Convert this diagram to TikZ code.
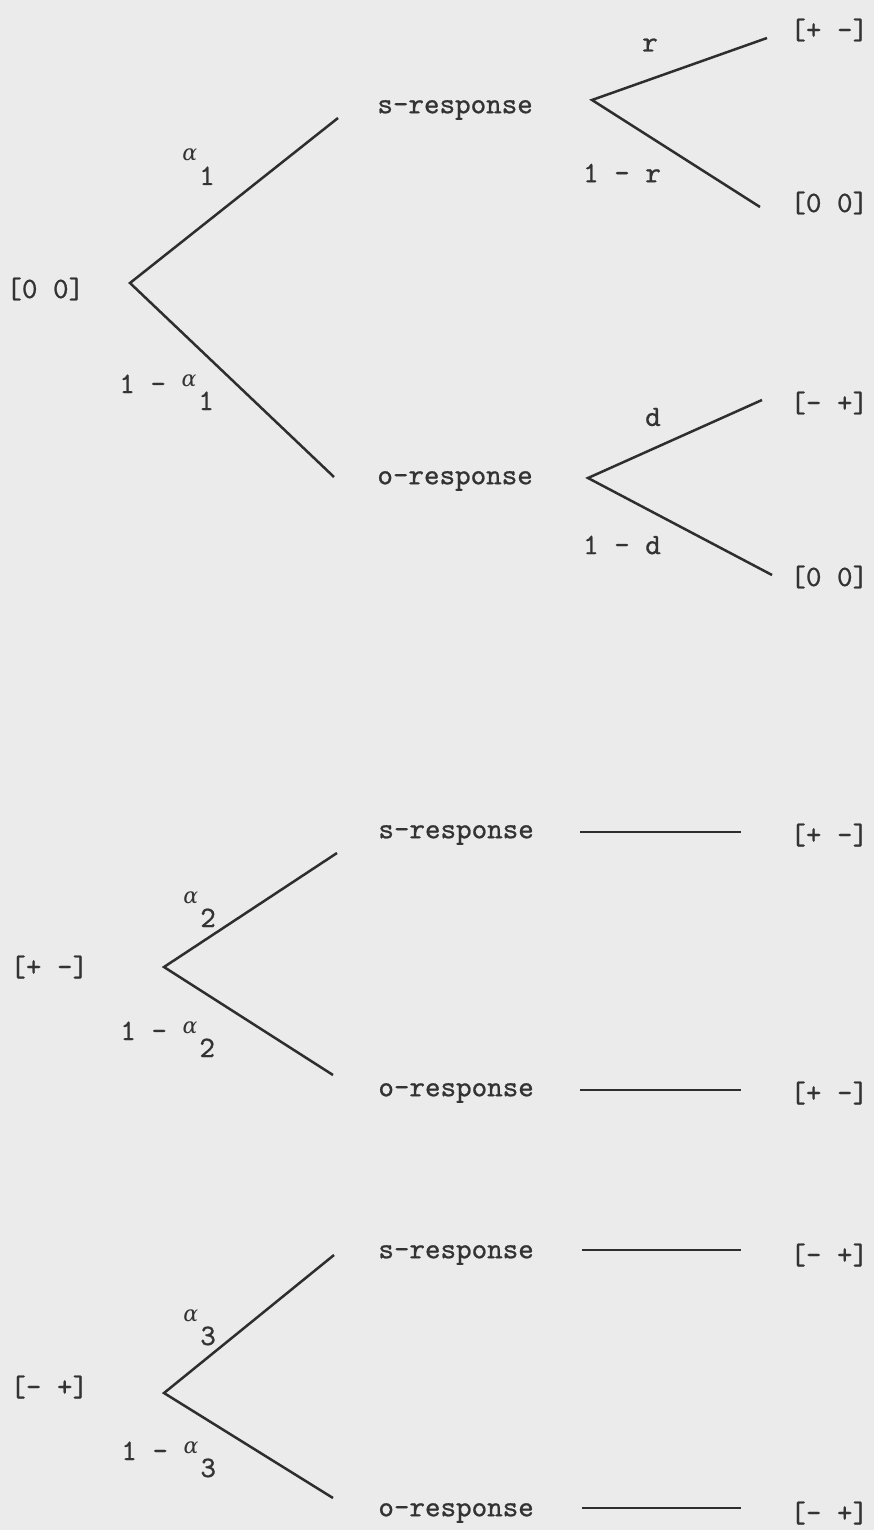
\documentclass[tikz,border=0pt]{standalone}
\usepackage{fontspec}
\newfontfamily\tw{lmmono10-regular}[Extension=.otf, FakeBold=0.8]
\newfontfamily\grk{DejaVu Serif}
\definecolor{bgc}{HTML}{EBEBEB}
\definecolor{inkc}{HTML}{333333}
\definecolor{linec}{HTML}{2E2E2E}
\newcommand\alab[1]{{\fontsize{11}{13}\selectfont\grk\itshape α}\kern1pt\raisebox{-12pt}{#1}}
\newcommand\omlab[1]{1 - \raisebox{3.5pt}{\alab{#1}}}
\begin{document}
\begin{tikzpicture}[x=0.5pt,y=-0.5pt,
  txt/.style={font=\fontsize{14.8}{16}\selectfont\tw, text=inkc, inner sep=0pt},
  branch/.style={draw=linec, line width=1.25pt},
  flat/.style={draw=linec, line width=1pt}]
\fill[bgc] (0,0) rectangle (874,1530);
\useasboundingbox (0,0) rectangle (874,1530);
% ---------- tree 1 ----------
\node[txt, anchor=west] (r0) at (6,289) {[0 0]};
\coordinate (v1) at (130,283);
\coordinate (s1e) at (338,118);
\coordinate (o1e) at (334,477);
\draw[branch] (s1e) -- (v1) -- (o1e);
\node[txt, anchor=base west] (a1) at (182,161) {\alab{1}};
\node[txt, anchor=base west] (b1) at (119,393) {\omlab{1}};
\node[txt, anchor=west] (s1) at (377,110) {s-response};
\node[txt, anchor=west] (o1) at (377,481) {o-response};
\coordinate (v2) at (592,100);
\coordinate (v2a) at (767,38);
\coordinate (v2b) at (760,207);
\draw[branch] (v2a) -- (v2) -- (v2b);
\node[txt] (rl) at (650,45) {r};
\node[txt] (rl2) at (622,173) {1 - r};
\node[txt, anchor=west] (t1) at (790,30) {[+ -]};
\node[txt, anchor=west] (t2) at (790,203) {[0 0]};
\coordinate (v3) at (588,478);
\coordinate (v3a) at (762,400);
\coordinate (v3b) at (772,575);
\draw[branch] (v3a) -- (v3) -- (v3b);
\node[txt] (dl) at (653,417) {d};
\node[txt] (dl2) at (622,545) {1 - d};
\node[txt, anchor=west] (t3) at (790,403) {[- +]};
\node[txt, anchor=west] (t4) at (790,577) {[0 0]};
% ---------- tree 2 ----------
\node[txt, anchor=west] (r2) at (10,967) {[+ -]};
\coordinate (v4) at (164,967);
\coordinate (v4a) at (337,853);
\coordinate (v4b) at (333,1075);
\draw[branch] (v4a) -- (v4) -- (v4b);
\node[txt, anchor=base west] (a2) at (183,903) {\alab{2}};
\node[txt, anchor=base west] (b2) at (120,1040) {\omlab{2}};
\node[txt, anchor=west] (s2) at (378,835) {s-response};
\node[txt, anchor=west] (o2) at (378,1093) {o-response};
\coordinate (h1a) at (580,832);
\coordinate (h1b) at (741,832);
\coordinate (h2a) at (580,1090);
\coordinate (h2b) at (741,1090);
\draw[flat] (h1a) -- (h1b);
\draw[flat] (h2a) -- (h2b);
\node[txt, anchor=west] (t5) at (790,835) {[+ -]};
\node[txt, anchor=west] (t6) at (790,1093) {[+ -]};
% ---------- tree 3 ----------
\node[txt, anchor=west] (r3) at (10,1387) {[- +]};
\coordinate (v5) at (164,1393);
\coordinate (v5a) at (334,1255);
\coordinate (v5b) at (333,1498);
\draw[branch] (v5a) -- (v5) -- (v5b);
\node[txt, anchor=base west] (a3) at (183,1321) {\alab{3}};
\node[txt, anchor=base west] (b3) at (121,1460) {\omlab{3}};
\node[txt, anchor=west] (s3) at (378,1255) {s-response};
\node[txt, anchor=west] (o3) at (378,1513) {o-response};
\coordinate (h3a) at (582,1250);
\coordinate (h3b) at (741,1250);
\coordinate (h4a) at (582,1508);
\coordinate (h4b) at (741,1508);
\draw[flat] (h3a) -- (h3b);
\draw[flat] (h4a) -- (h4b);
\node[txt, anchor=west] (t7) at (790,1255) {[- +]};
\node[txt, anchor=west] (t8) at (790,1513) {[- +]};
\end{tikzpicture}
\end{document}
